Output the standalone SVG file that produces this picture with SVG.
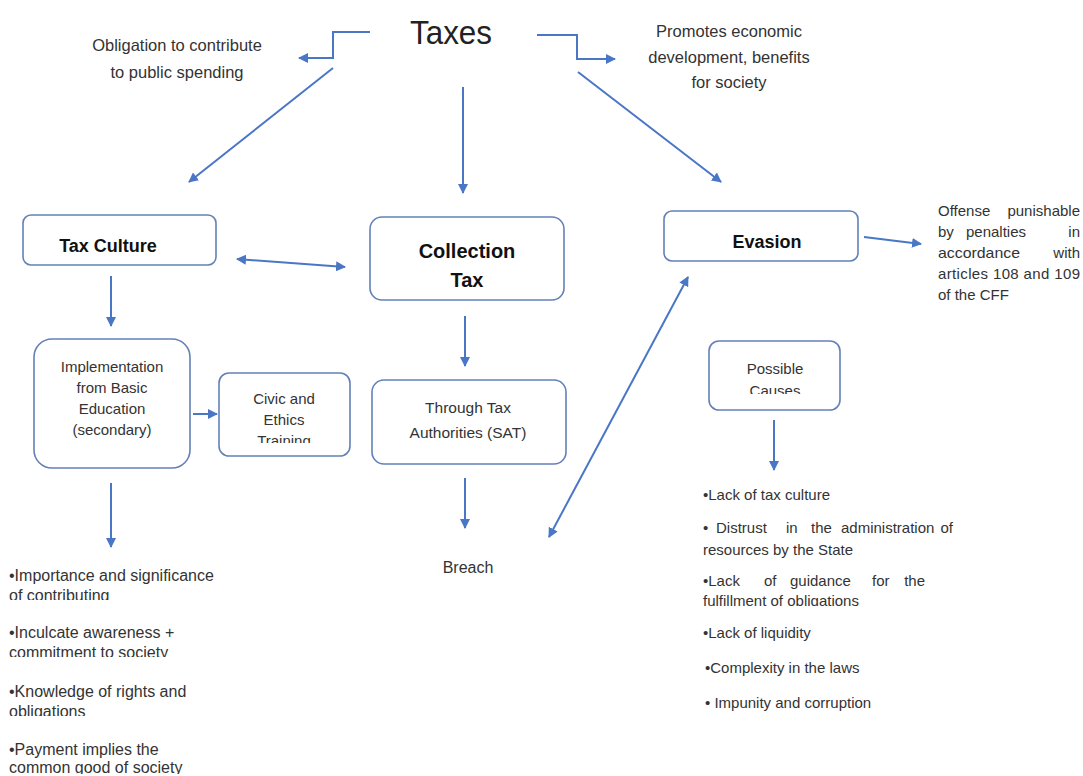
<svg xmlns="http://www.w3.org/2000/svg" width="1083" height="776" viewBox="0 0 1083 776">
<defs>
<style>
.t{font-family:"Liberation Sans",Arial,sans-serif;fill:#333;font-size:16px}
.c{text-anchor:middle}
.b{font-weight:bold;fill:#111;font-size:18px}
.box{fill:#fff;stroke:#6381b8;stroke-width:1.6}
.ln{fill:none;stroke:#4a76c6;stroke-width:2}
</style>
<marker id="ah" viewBox="0 0 10 10" refX="9" refY="5" markerWidth="5" markerHeight="5" orient="auto-start-reverse" markerUnits="strokeWidth">
<path d="M0,0 L10,5 L0,10 z" fill="#4a76c6"/>
</marker>
<clipPath id="cl1"><rect x="0" y="585" width="300" height="15"/></clipPath>
<clipPath id="cl2"><rect x="0" y="642" width="300" height="15"/></clipPath>
<clipPath id="cl3"><rect x="0" y="701" width="300" height="15"/></clipPath>
<clipPath id="cl4"><rect x="0" y="759" width="300" height="15"/></clipPath>
<clipPath id="cl5"><rect x="219" y="428" width="131" height="15"/></clipPath>
<clipPath id="cl6"><rect x="709" y="378" width="131" height="16"/></clipPath>
<clipPath id="cl7"><rect x="690" y="590" width="300" height="16"/></clipPath>
</defs>
<rect width="1083" height="776" fill="#fff"/>

<g id="connectors">
<polyline class="ln" points="370,32 333,32 333,58 299,58" marker-end="url(#ah)"/>
<polyline class="ln" points="537,35 577,35 577,59 615,59" marker-end="url(#ah)"/>
<line class="ln" x1="333" y1="68" x2="189" y2="182" marker-end="url(#ah)"/>
<line class="ln" x1="463" y1="87" x2="463" y2="193" marker-end="url(#ah)"/>
<line class="ln" x1="578" y1="72" x2="721" y2="182" marker-end="url(#ah)"/>
<line class="ln" x1="237" y1="259" x2="345" y2="267" marker-start="url(#ah)" marker-end="url(#ah)"/>
<line class="ln" x1="111" y1="276" x2="111" y2="326" marker-end="url(#ah)"/>
<line class="ln" x1="193" y1="414" x2="217" y2="414" marker-end="url(#ah)"/>
<line class="ln" x1="111" y1="483" x2="111" y2="547" marker-end="url(#ah)"/>
<line class="ln" x1="465" y1="316" x2="465" y2="366" marker-end="url(#ah)"/>
<line class="ln" x1="465" y1="478" x2="465" y2="528" marker-end="url(#ah)"/>
<line class="ln" x1="549" y1="537" x2="688" y2="277" marker-start="url(#ah)" marker-end="url(#ah)"/>
<line class="ln" x1="864" y1="237" x2="921" y2="244" marker-end="url(#ah)"/>
<line class="ln" x1="774" y1="420" x2="774" y2="470" marker-end="url(#ah)"/>
</g>

<g id="taxes">
<text class="t c" x="451" y="44" style="font-size:34px;fill:#222" textLength="82" lengthAdjust="spacingAndGlyphs">Taxes</text>
</g>
<g id="obligation">
<text class="t c" x="177" y="51" style="font-size:16.5px">Obligation to contribute</text>
<text class="t c" x="177" y="78" style="font-size:16.5px">to public spending</text>
</g>
<g id="promotes">
<text class="t c" x="729" y="37" style="font-size:16.5px">Promotes economic</text>
<text class="t c" x="729" y="63" style="font-size:16.5px">development, benefits</text>
<text class="t c" x="729" y="88" style="font-size:16.5px">for society</text>
</g>

<g id="tax-culture">
<rect class="box" x="23" y="215" width="193" height="50" rx="8"/>
<text class="t c b" x="108" y="252">Tax Culture</text>
</g>
<g id="collection-tax">
<rect class="box" x="370" y="217" width="194" height="83" rx="12"/>
<text class="t c b" x="467" y="258" style="font-size:20px">Collection</text>
<text class="t c b" x="467" y="287" style="font-size:20px">Tax</text>
</g>
<g id="evasion">
<rect class="box" x="664" y="211" width="194" height="50" rx="8"/>
<text class="t c b" x="767" y="248">Evasion</text>
</g>
<g id="offense">
<text class="t" x="938" y="216" style="font-size:15px">Offense</text>
<text class="t" x="1080" y="216" style="font-size:15px;text-anchor:end">punishable</text>
<text class="t" x="938" y="237" style="font-size:15px">by</text>
<text class="t" x="996" y="237" style="font-size:15px;text-anchor:middle">penalties</text>
<text class="t" x="1080" y="237" style="font-size:15px;text-anchor:end">in</text>
<text class="t" x="938" y="258" style="font-size:15px" textLength="82" lengthAdjust="spacingAndGlyphs">accordance</text>
<text class="t" x="1080" y="258" style="font-size:15px;text-anchor:end">with</text>
<text class="t" x="938" y="279" style="font-size:15px" textLength="142" lengthAdjust="spacing">articles 108 and 109</text>
<text class="t" x="938" y="300" style="font-size:15px">of the CFF</text>
</g>

<g id="implementation">
<rect class="box" x="34" y="339" width="156" height="129" rx="18"/>
<text class="t c" x="112" y="372" style="font-size:15px">Implementation</text>
<text class="t c" x="112" y="393" style="font-size:15px">from Basic</text>
<text class="t c" x="112" y="414" style="font-size:15px">Education</text>
<text class="t c" x="112" y="435" style="font-size:15px">(secondary)</text>
</g>
<g id="civic">
<rect class="box" x="219" y="373" width="131" height="83" rx="10"/>
<text class="t c" x="284" y="404" style="font-size:15px">Civic and</text>
<text class="t c" x="284" y="425" style="font-size:15px">Ethics</text>
<text class="t c" x="284" y="446" style="font-size:15px" clip-path="url(#cl5)">Training</text>
</g>
<g id="left-list">
<text class="t" x="9" y="581">•Importance and significance</text>
<text class="t" x="9" y="601" clip-path="url(#cl1)">of contributing</text>
<text class="t" x="9" y="638">•Inculcate awareness +</text>
<text class="t" x="9" y="658" clip-path="url(#cl2)">commitment to society</text>
<text class="t" x="9" y="697">•Knowledge of rights and</text>
<text class="t" x="9" y="717" clip-path="url(#cl3)">obligations</text>
<text class="t" x="9" y="755">•Payment implies the</text>
<text class="t" x="9" y="773" clip-path="url(#cl4)">common good of society</text>
</g>

<g id="through">
<rect class="box" x="372" y="380" width="194" height="84" rx="12"/>
<text class="t c" x="468" y="413" style="font-size:15.5px">Through Tax</text>
<text class="t c" x="468" y="438" style="font-size:15.5px">Authorities (SAT)</text>
</g>
<g id="breach">
<text class="t c" x="468" y="573">Breach</text>
</g>

<g id="possible-causes">
<rect class="box" x="709" y="341" width="131" height="69" rx="10"/>
<text class="t c" x="775" y="374" style="font-size:15px">Possible</text>
<text class="t c" x="775" y="396" style="font-size:15px" clip-path="url(#cl6)">Causes</text>
</g>
<g id="right-list">
<text class="t" x="703" y="500" style="font-size:15px">•Lack of tax culture</text>
<text class="t" x="703" y="533" style="font-size:15px">•</text>
<text class="t" x="716" y="533" style="font-size:15px">Distrust</text>
<text class="t" x="786" y="533" style="font-size:15px">in</text>
<text class="t" x="811" y="533" style="font-size:15px">the</text>
<text class="t" x="841" y="533" style="font-size:15px">administration</text>
<text class="t" x="953" y="533" style="font-size:15px;text-anchor:end">of</text>
<text class="t" x="703" y="555" style="font-size:15px">resources by the State</text>
<text class="t" x="703" y="586" style="font-size:15px">•Lack</text>
<text class="t" x="764" y="586" style="font-size:15px">of</text>
<text class="t" x="790" y="586" style="font-size:15px">guidance</text>
<text class="t" x="872" y="586" style="font-size:15px">for</text>
<text class="t" x="925" y="586" style="font-size:15px;text-anchor:end">the</text>
<text class="t" x="703" y="606" style="font-size:15px" clip-path="url(#cl7)">fulfillment of obligations</text>
<text class="t" x="703" y="638" style="font-size:15px">•Lack of liquidity</text>
<text class="t" x="705" y="673" style="font-size:15px">•Complexity in the laws</text>
<text class="t" x="705" y="708" style="font-size:15px">• Impunity and corruption</text>
</g>
</svg>
